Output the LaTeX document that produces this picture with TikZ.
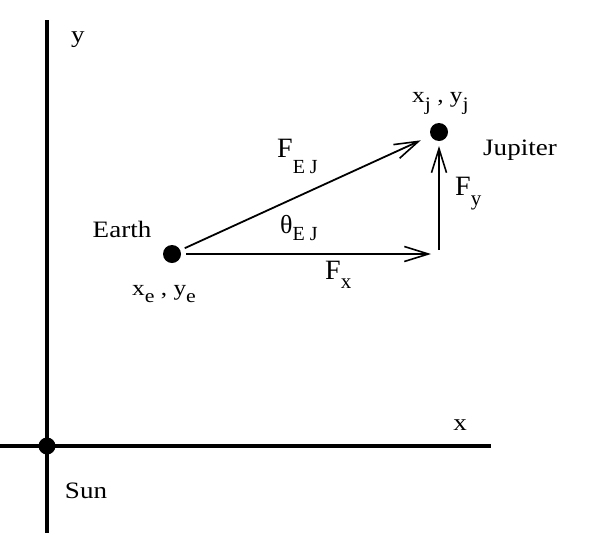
\documentclass[tikz,border=0pt]{standalone}
\usepackage{fontspec}
\setmainfont{Liberation Serif}
\usetikzlibrary{arrows.meta}
% subscript: #1 = drop below baseline, #2 = font size, #3 = text
\newcommand{\lbsub}[3]{\raisebox{-#1}{\fontsize{#2}{#2}\selectfont #3}}
\newcommand{\lbt}[1]{\scalebox{1.15}[1]{#1}}
\begin{document}
\begin{tikzpicture}[x=1pt,y=-1pt,
  axis/.style={line width=3.3pt},
  body/.style={circle,fill=black,inner sep=0pt,minimum size=18pt,outer sep=5pt},
  vec/.style={line width=1.8pt,-{Straight Barb[length=24pt,width=15pt,line width=1.6pt]}},
  lbl/.style={inner sep=0pt,font=\fontsize{23.5}{23.5}\selectfont},
  flbl/.style={inner sep=0pt,anchor=base west,font=\fontsize{28}{28}\selectfont},
  clbl/.style={inner sep=0pt,anchor=base west,font=\fontsize{22}{22}\selectfont}]
\useasboundingbox (0,0) rectangle (593,533);
\fill[white] (0,0) rectangle (593,533);
% axes
\coordinate (ytop) at (47,20);
\coordinate (ybot) at (47,533);
\coordinate (xl) at (0,446);
\coordinate (xr) at (491,446);
\draw[axis] (ytop) -- (ybot);
\draw[axis] (xl) -- (xr);
\node[body,minimum size=17pt] (sun) at (47,446) {};
% bodies
\node[body] (earth) at (172,254) {};
\node[body] (jupiter) at (439,132) {};
\coordinate (corner) at (439,254);
% vectors
\draw[vec,shorten >=6pt] (earth) -- (jupiter);
\draw[vec,shorten >=8pt] (earth) -- (corner);
\draw[vec,shorten <=4pt] (corner) -- (jupiter);
% labels
\node[lbl] (ylab) at (78,40) {\lbt{y}};
\node[lbl] (xlab) at (460,425) {\lbt{x}};
\node[lbl] (sunlab) at (86,491) {\lbt{Sun}};
\node[lbl] (earthlab) at (122,229) {\lbt{Earth}};
\node[lbl] (jupiterlab) at (520,150) {\lbt{Jupiter}};
\node[clbl] (xeye) at (132,295) {\lbt{x\lbsub{7pt}{19}{e} , y\lbsub{7pt}{19}{e}}};
\node[clbl] (xjyj) at (412,102) {\lbt{x\lbsub{8pt}{19}{j} , y\lbsub{8pt}{19}{j}}};
\node[flbl] (fej) at (277,157) {F\lbsub{16pt}{20}{E J}};
\node[flbl,font=\fontsize{26}{26}\selectfont] (thej) at (280,233) {θ\lbsub{7pt}{20}{E J}};
\node[flbl] (fx) at (325,279) {F\lbsub{9pt}{21}{x}};
\node[flbl] (fy) at (455,195) {F\lbsub{10pt}{21}{y}};
\end{tikzpicture}
\end{document}
